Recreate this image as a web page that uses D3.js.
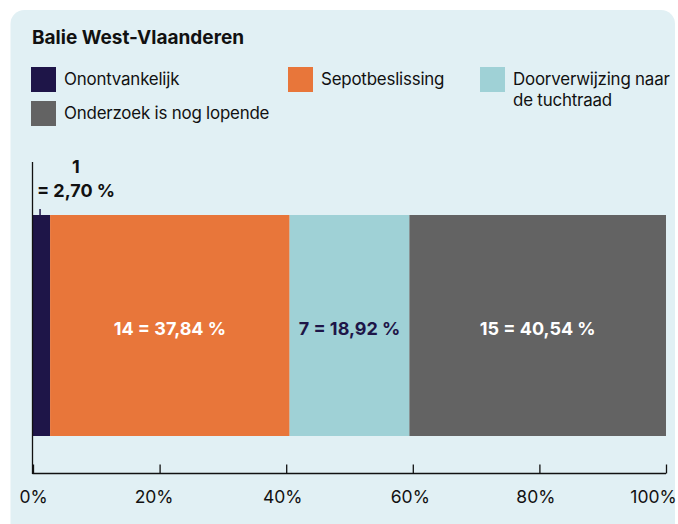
<!DOCTYPE html>
<html>
<head>
<meta charset="utf-8">
<script src="https://cdn.jsdelivr.net/npm/d3@7/dist/d3.min.js"></script>
<style>
  html, body { margin: 0; padding: 0; background: #ffffff; }
  svg { display: block; font-family: Inter, "Noto Sans", sans-serif; }
</style>
</head>
<body>
<svg id="chart" width="678" height="524"></svg>
<script>
const title = "Balie West-Vlaanderen";
const categories = ["Onontvankelijk", "Sepotbeslissing", "Doorverwijzing naar de tuchtraad", "Onderzoek is nog lopende"];
const counts = [1, 14, 7, 15];
const percents = [2.70, 37.84, 18.92, 40.54];
const colors = ["#1e1548", "#e8763a", "#9fd1d6", "#636363"];
const labelColors = ["#111111", "#ffffff", "#1e1548", "#ffffff"];
const tickValues = [0, 20, 40, 60, 80, 100];
const tickLabels = ["0%", "20%", "40%", "60%", "80%", "100%"];

const svg = d3.select("#chart");

// panel
svg.append("rect")
  .attr("x", 10.5).attr("y", 10).attr("width", 664.5).attr("height", 540)
  .attr("rx", 14).attr("fill", "#e1f0f4");

// title
svg.append("text")
  .attr("x", 32).attr("y", 44)
  .attr("font-size", 19).attr("font-weight", 700)
  .attr("fill", "#111")
  .text(title);

// legend
const legendItems = [
  { i: 0, x: 31, y: 67, lines: ["Onontvankelijk"] },
  { i: 1, x: 288, y: 67, lines: ["Sepotbeslissing"] },
  { i: 2, x: 480, y: 67, lines: ["Doorverwijzing naar", "de tuchtraad"] },
  { i: 3, x: 31, y: 101, lines: ["Onderzoek is nog lopende"] }
];
const lg = svg.append("g");
legendItems.forEach(d => {
  lg.append("rect").attr("x", d.x).attr("y", d.y).attr("width", 25).attr("height", 25)
    .attr("fill", colors[d.i]);
  const t = lg.append("text").attr("x", d.x + 33).attr("y", d.y + 18)
    .attr("font-size", 16.9).attr("fill", "#111").attr("letter-spacing", "-0.2");
  d.lines.forEach((l, k) => {
    t.append("tspan").attr("x", d.x + 33).attr("dy", k === 0 ? 0 : 21).text(l);
  });
});

// scales
const x = d3.scaleLinear().domain([0, 100]).range([33, 666]);
const barTop = 215, barBottom = 436, axisY = 473.5;

// stacked segments
let cum = 0;
const segs = percents.map((p, i) => {
  const s = { i, start: cum, end: cum + p, count: counts[i], pct: p };
  cum += p;
  return s;
});
segs[segs.length - 1].end = 100;

svg.append("g").selectAll("rect").data(segs).join("rect")
  .attr("x", d => x(d.start))
  .attr("width", d => x(d.end) - x(d.start))
  .attr("y", barTop).attr("height", barBottom - barTop)
  .attr("fill", d => colors[d.i]);

const fmt = v => v.toFixed(2).replace(".", ",");

// in-bar labels
svg.append("g").selectAll("text").data(segs.slice(1)).join("text")
  .attr("x", d => (x(d.start) + x(d.end)) / 2)
  .attr("y", 335)
  .attr("text-anchor", "middle")
  .attr("font-size", 18).attr("font-weight", 700)
  .attr("fill", d => labelColors[d.i])
  .text(d => `${d.count} = ${fmt(d.pct)} %`);

// small segment label above bar
const s0 = segs[0];
svg.append("line")
  .attr("x1", x((s0.start + s0.end) / 2) - 1.5).attr("x2", x((s0.start + s0.end) / 2) - 1.5)
  .attr("y1", 209).attr("y2", barTop)
  .attr("stroke", colors[0]).attr("stroke-width", 1.5);
const t0 = svg.append("text").attr("text-anchor", "middle")
  .attr("font-size", 18).attr("font-weight", 700).attr("fill", "#111");
t0.append("tspan").attr("x", 76).attr("y", 173).text(String(s0.count));
t0.append("tspan").attr("x", 76).attr("y", 197).text(`= ${fmt(s0.pct)} %`);

// axes
svg.append("line").attr("x1", 32.5).attr("x2", 32.5).attr("y1", 162).attr("y2", axisY + 0.5)
  .attr("stroke", "#111").attr("stroke-width", 1.3);

const tickShift = [0, -6, -4, -3, -4, -13];
const axis = d3.axisBottom(x).tickValues(tickValues).tickSize(0).tickFormat((d, i) => tickLabels[i]);
const ag = svg.append("g").attr("transform", `translate(0,${axisY})`).call(axis);
ag.select(".domain").attr("stroke", "#111").attr("stroke-width", 1.3).attr("d", `M32.5,0H666`);
ag.selectAll(".tick line").attr("y1", -9).attr("y2", 0).attr("stroke", "#111").attr("stroke-width", 1.3);
ag.selectAll(".tick text")
  .attr("y", 29).attr("dy", 0)
  .attr("font-size", 17.5).attr("font-family", "Inter, sans-serif")
  .attr("fill", "#111")
  .attr("text-anchor", "middle")
  .attr("dx", (d, i) => tickShift[i]);
</script>
</body>
</html>
